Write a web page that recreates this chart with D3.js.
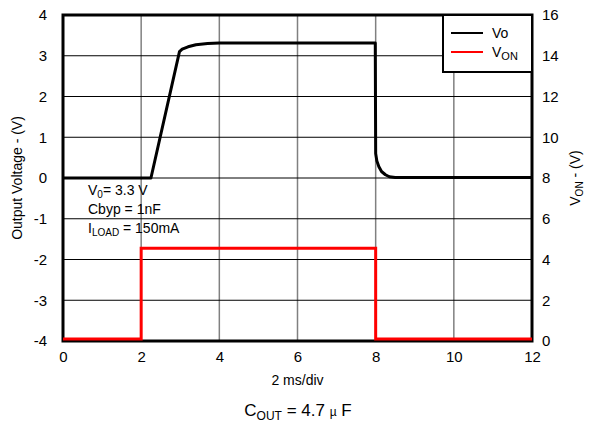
<!DOCTYPE html>
<html><head><meta charset="utf-8">
<script src="https://cdn.jsdelivr.net/npm/d3@7"></script>
<style>body{margin:0;background:#fff}svg{display:block;font-family:"Liberation Sans",Arial,sans-serif}</style>
</head><body><svg id="c" width="589" height="425"></svg>
<script>
const xTicks = [0,2,4,6,8,10,12];
const yLeftTicks = [-4,-3,-2,-1,0,1,2,3,4];
const yRightTicks = [0,2,4,6,8,10,12,14,16];
const voTime = [0,2.25,2.98,3.05,3.2,3.4,3.7,4.0,5,7.99,8.0,8.03,8.08,8.15,8.25,8.35,8.5,12];
const voVal  = [0,0,3.1,3.16,3.22,3.27,3.30,3.31,3.31,3.31,0.6,0.42,0.28,0.16,0.08,0.03,0.01,0.01];
const vonTime = [0,2,2,8,8,12];
const vonVal  = [0.1,0.1,4.55,4.55,0.1,0.1];

const svg = d3.select("#c");
const L=63,R=532,T=15,B=341;
const x = d3.scaleLinear().domain([0,12]).range([L,R]);
const yL = d3.scaleLinear().domain([-4,4]).range([B,T]);
const yR = d3.scaleLinear().domain([0,16]).range([B,T]);
const fmt = d=>String(d).replace("\u2212","-");

// grid
svg.append("g").selectAll("line").data(xTicks.slice(1,-1)).join("line")
  .attr("x1",d=>x(d)).attr("x2",d=>x(d)).attr("y1",T).attr("y2",B)
  .attr("stroke","#808080").attr("stroke-width",1.5);
svg.append("g").selectAll("line").data(yLeftTicks.slice(1,-1)).join("line")
  .attr("x1",L).attr("x2",R).attr("y1",d=>yL(d)).attr("y2",d=>yL(d))
  .attr("stroke","#000").attr("stroke-width",1);

// axes (labels only)
const ax = svg.append("g").attr("transform",`translate(0,${B})`).call(d3.axisBottom(x).tickValues(xTicks).tickFormat(fmt).tickSize(0).tickPadding(10));
const ayl = svg.append("g").attr("transform",`translate(${L},0)`).call(d3.axisLeft(yL).tickValues(yLeftTicks).tickFormat(fmt).tickSize(0).tickPadding(16));
const ayr = svg.append("g").attr("transform",`translate(${R},0)`).call(d3.axisRight(yR).tickValues(yRightTicks).tickFormat(fmt).tickSize(0).tickPadding(10));
[ax,ayl,ayr].forEach(g=>{g.select(".domain").remove();g.selectAll("text").attr("font-size",15).attr("font-family","Liberation Sans, Arial, sans-serif").attr("fill","#000");});

// annotations
const ann = svg.append("g").attr("font-size",14).attr("fill","#000");
const t1 = ann.append("text").attr("x",88).attr("y",195);
t1.append("tspan").text("V");
t1.append("tspan").attr("font-size",10).attr("dy",3).text("0");
t1.append("tspan").attr("dy",-3).text("= 3.3 V");
ann.append("text").attr("x",88).attr("y",214).text("Cbyp = 1nF");
const t3 = ann.append("text").attr("x",88).attr("y",233);
t3.append("tspan").text("I");
t3.append("tspan").attr("font-size",10).attr("dy",3).text("LOAD");
t3.append("tspan").attr("dy",-3).text(" = 150mA");

// frame
svg.append("rect").attr("x",L).attr("y",T).attr("width",R-L).attr("height",B-T)
  .attr("fill","none").attr("stroke","#000").attr("stroke-width",3);

// lines
const voData = voTime.map((t,i)=>[t,voVal[i]]);
const vonData = vonTime.map((t,i)=>[t,vonVal[i]]);
svg.append("path").datum(vonData).attr("fill","none").attr("stroke","#ff0000").attr("stroke-width",3)
  .attr("d",d3.line().x(d=>x(d[0])).y(d=>yR(d[1])));
svg.append("path").datum(voData).attr("fill","none").attr("stroke","#000").attr("stroke-width",3).attr("stroke-linejoin","round")
  .attr("d",d3.line().x(d=>x(d[0])).y(d=>yL(d[1])));

// legend
const lg = svg.append("g");
lg.append("rect").attr("x",443).attr("y",T).attr("width",R-443).attr("height",57)
  .attr("fill","#fff").attr("stroke","#000").attr("stroke-width",2);
lg.append("line").attr("x1",451).attr("x2",483).attr("y1",33).attr("y2",33).attr("stroke","#000").attr("stroke-width",2);
lg.append("line").attr("x1",451).attr("x2",483).attr("y1",52).attr("y2",52).attr("stroke","#ff0000").attr("stroke-width",2);
lg.append("text").attr("x",492).attr("y",38).attr("font-size",14).text("Vo");
const lt = lg.append("text").attr("x",492).attr("y",57).attr("font-size",14);
lt.append("tspan").text("V");
lt.append("tspan").attr("font-size",11).attr("dy",3).text("ON");

// axis titles
svg.append("text").attr("x",(L+R)/2).attr("y",385).attr("text-anchor","middle").attr("font-size",14).text("2 ms/div");
svg.append("text").attr("transform",`translate(22,${(T+B)/2}) rotate(-90)`).attr("text-anchor","middle").attr("font-size",14).text("Output Voltage - (V)");
const rt = svg.append("text").attr("transform",`translate(580,${(T+B)/2}) rotate(-90)`).attr("text-anchor","middle").attr("font-size",14);
rt.append("tspan").text("V");
rt.append("tspan").attr("font-size",10).attr("dy",3).text("ON");
rt.append("tspan").attr("dy",-3).text(" - (V)");

// caption
const cap = svg.append("text").attr("x",298).attr("y",416).attr("text-anchor","middle").attr("font-size",17);
cap.append("tspan").text("C");
cap.append("tspan").attr("font-size",12).attr("dy",4).text("OUT");
cap.append("tspan").attr("dy",-4).text(" = 4.7 ");
cap.append("tspan").attr("font-size",12).text("µ");
cap.append("tspan").text(" F");
</script></body></html>
